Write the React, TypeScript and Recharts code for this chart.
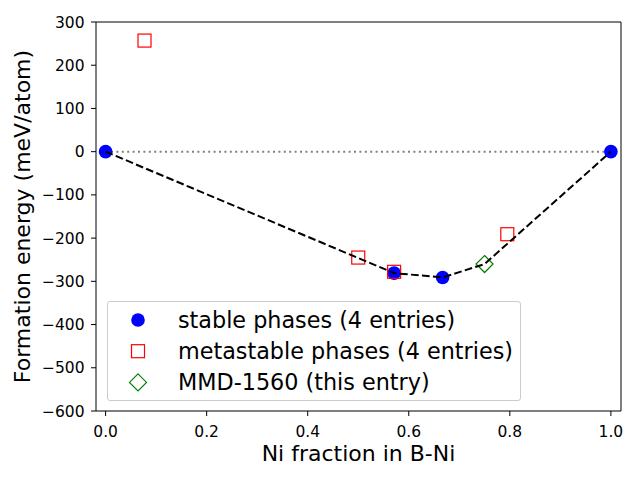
import React from 'react';
import { ScatterChart, Scatter, XAxis, YAxis, ReferenceLine } from 'recharts';

// ---- data ----
const stableX = [0.0, 0.571, 0.667, 1.0];
const stableY = [0, -281, -291, 0];

const metastableX = [0.077, 0.5, 0.571, 0.795];
const metastableY = [257, -245, -278, -191];

const entryX = [0.75];
const entryY = [-260];

const hullX = [0.0, 0.571, 0.667, 0.75, 1.0];
const hullY = [0, -281, -291, -260, 0];

const zeroX = [0.0, 1.0];
const zeroY = [0, 0];

const yTicks = [-600, -500, -400, -300, -200, -100, 0, 100, 200, 300];
const xTicks = [0.0, 0.2, 0.4, 0.6, 0.8, 1.0];

const legendLabels = [
  'stable phases (4 entries)',
  'metastable phases (4 entries)',
  'MMD-1560 (this entry)',
];

const zip = (xs: number[], ys: number[]) => xs.map((x, i) => ({ x, y: ys[i] }));

const stableData = zip(stableX, stableY);
const metastableData = zip(metastableX, metastableY);
const entryData = zip(entryX, entryY);
const hullData = zip(hullX, hullY);
const zeroData = zip(zeroX, zeroY);

const FONT = '"DejaVu Sans", sans-serif';

const Circle = (p: any) => <circle cx={p.cx} cy={p.cy} r={6.8} fill="#0000ff" />;
const Square = (p: any) => (
  <rect x={p.cx - 6.5} y={p.cy - 6.5} width={13} height={13} fill="none" stroke="#ff0000" strokeWidth={1.2} />
);
const Diamond = (p: any) => (
  <polygon
    points={`${p.cx},${p.cy - 8.5} ${p.cx + 8.5},${p.cy} ${p.cx},${p.cy + 8.5} ${p.cx - 8.5},${p.cy}`}
    fill="none"
    stroke="#008000"
    strokeWidth={1.2}
  />
);
const Nothing = () => <g />;

const fmtX = (v: number) => v.toFixed(1);
const fmtY = (v: number) => (v < 0 ? '\u2212' + Math.abs(v) : String(v));

export default function App() {
  return (
    <div style={{ position: 'absolute', left: 0, top: 0, width: 640, height: 480, background: '#fff' }}>
      <ScatterChart
        width={640}
        height={480}
        margin={{ top: 22, right: 19, bottom: 39, left: 36 }}
        style={{ fontFamily: FONT }}
      >
        <XAxis
          type="number"
          dataKey="x"
          domain={[-0.019, 1.02]}
          ticks={xTicks}
          tickFormatter={fmtX}
          allowDataOverflow
          height={30}
          tickSize={5}
          tickMargin={9.5}
          stroke="#000"
          tick={{ fill: '#000', fontSize: 15.5, fontFamily: FONT }}
          label={(props: any) => {
            const vb = props.viewBox || { x: 96, y: 411, width: 525 };
            return (
              <text
                x={vb.x + vb.width / 2}
                y={vb.y + 50}
                textAnchor="middle"
                fontSize={22}
                fontFamily={FONT}
                fill="#000"
              >
                Ni fraction in B-Ni
              </text>
            );
          }}
        />
        <YAxis
          type="number"
          dataKey="y"
          domain={[-600, 300]}
          ticks={yTicks}
          tickFormatter={fmtY}
          allowDataOverflow
          width={60}
          tickSize={5}
          tickMargin={6.5}
          stroke="#000"
          tick={{ fill: '#000', fontSize: 15.5, fontFamily: FONT }}
          label={(props: any) => {
            const vb = props.viewBox || { x: 36, y: 22, height: 389 };
            const cx = vb.x - 6;
            const cy = vb.y + vb.height / 2;
            return (
              <text
                x={cx}
                y={cy}
                transform={`rotate(-90 ${cx} ${cy})`}
                textAnchor="middle"
                fontSize={22}
                fontFamily={FONT}
                fill="#000"
              >
                Formation energy (meV/atom)
              </text>
            );
          }}
        />
        <ReferenceLine y={300} stroke="#000" ifOverflow="extendDomain" />
        <ReferenceLine x={1.02} stroke="#000" ifOverflow="extendDomain" />
        <Scatter
          data={zeroData}
          line={{ stroke: '#808080', strokeWidth: 2, strokeDasharray: '2 3.4' }}
          shape={Nothing}
          isAnimationActive={false}
        />
        <Scatter data={stableData} shape={Circle} isAnimationActive={false} />
        <Scatter data={metastableData} shape={Square} isAnimationActive={false} />
        <Scatter data={entryData} shape={Diamond} isAnimationActive={false} />
        <Scatter
          data={hullData}
          line={{ stroke: '#000', strokeWidth: 2, strokeDasharray: '7.7 3.3' }}
          shape={Nothing}
          isAnimationActive={false}
        />
      </ScatterChart>
      <div
        style={{
          position: 'absolute',
          left: 107,
          top: 301,
          width: 414,
          height: 100,
          border: '1px solid #cccccc',
          borderRadius: 3,
          background: 'rgba(255,255,255,0.8)',
          boxSizing: 'border-box',
        }}
      >
        <svg width={414} height={100} style={{ position: 'absolute', left: -1, top: -1 }}>
          {legendLabels.map((label, i) => {
            const cy = 19 + i * 31.2;
            const cx = 31;
            return (
              <g key={label}>
                {i === 0 && <Circle cx={cx} cy={cy} />}
                {i === 1 && <Square cx={cx} cy={cy} />}
                {i === 2 && <Diamond cx={cx} cy={cy} />}
                <text x={71} y={cy} dy="0.36em" fontSize={22.3} fontFamily={FONT} fill="#000">
                  {label}
                </text>
              </g>
            );
          })}
        </svg>
      </div>
    </div>
  );
}
